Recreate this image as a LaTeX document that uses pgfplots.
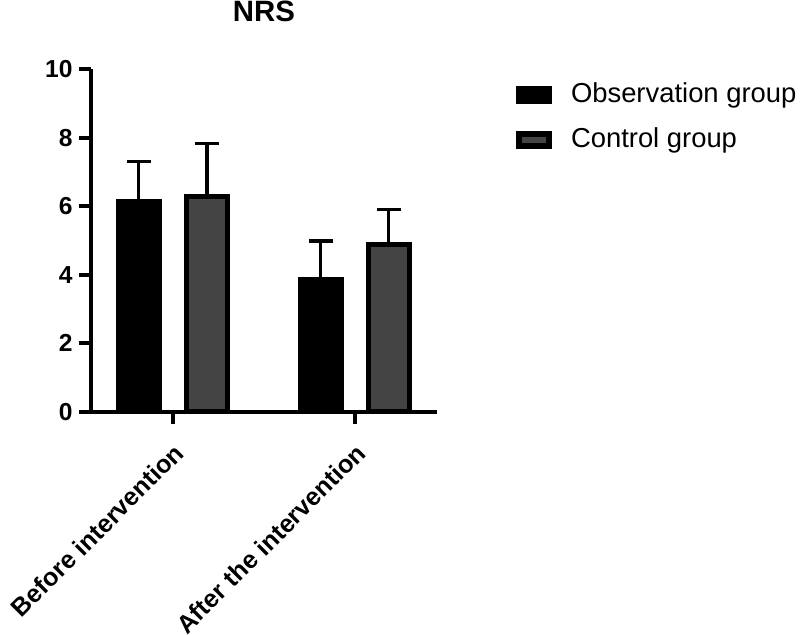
\documentclass[border=0pt]{standalone}
\usepackage{fontspec}
\setmainfont{Liberation Sans}
\usepackage{pgfplots}
\pgfplotsset{compat=1.18}
\definecolor{ctrlgray}{RGB}{68,68,68}
\begin{document}
\begin{tikzpicture}
\path[use as bounding box] (0,0) rectangle (400bp,317.5bp);
\begin{axis}[
  at={(45.5bp,111.65bp)}, anchor=south west,
  scale only axis, width=172.85bp, height=171.35bp,
  xmin=-0.45, xmax=1.45, ymin=0, ymax=10,
  enlargelimits=false,
  axis x line*=bottom, axis y line*=left,
  axis line style={line width=2bp, -},
  every tick/.style={line width=2bp, black},
  tick align=outside, major tick length=6bp,
  ytick={0,2,4,6,8,10},
  xtick={0,1},
  xticklabels={Before intervention, After the intervention},
  /pgf/number format/assume math mode=true,
  ticklabel style={font=\fontsize{12.3bp}{14bp}\selectfont\bfseries},
  yticklabel style={inner sep=0pt, xshift=-3bp},
  xticklabel style={rotate=45, anchor=east, inner sep=0pt, yshift=-11bp, xshift=-6.5bp, font=\fontsize{12.6bp}{14bp}\selectfont\bfseries},
  title={NRS},
  title style={font=\fontsize{14.7bp}{17bp}\selectfont\bfseries, at={(0.5,1)}, anchor=base, yshift=18bp, inner sep=0pt},
  legend style={draw=none, fill=none, inner sep=0pt, outer sep=0pt,
    at={(1.2294,0.9620)}, anchor=north west,
    font=\fontsize{13.7bp}{16bp}\selectfont,
    nodes={inner sep=0pt, text height=10bp, text depth=3bp},
    row sep=9.5bp,
    /tikz/every odd column/.append style={column sep=9.5bp}},
  legend cell align=left,
  clip=false,
]
\addplot[ybar, bar width=20.5bp, bar shift=0pt, fill=black, draw=black, line width=2.5bp,
  legend image code/.code={\draw[fill=black, draw=black, line width=3bp] (0bp,-3bp) rectangle (15bp,3bp);},
  error bars/.cd, y dir=plus, y explicit,
  error bar style={line width=1.6bp, black},
  error mark options={rotate=90, line width=1.6bp, mark size=6bp, black}]
  coordinates {(-0.187,6.13) +- (0,1.16) (0.813,3.86) +- (0,1.12)};
\addlegendentry{Observation group}
\addplot[ybar, bar width=20.5bp, bar shift=0pt, fill=ctrlgray, draw=black, line width=2.5bp,
  legend image code/.code={\draw[fill=ctrlgray, draw=black, line width=3bp] (0bp,-3bp) rectangle (15bp,3bp);},
  error bars/.cd, y dir=plus, y explicit,
  error bar style={line width=1.6bp, black},
  error mark options={rotate=90, line width=1.6bp, mark size=6bp, black}]
  coordinates {(0.187,6.27) +- (0,1.56) (1.187,4.87) +- (0,1.04)};
\addlegendentry{Control group}
\end{axis}
\end{tikzpicture}
\end{document}
